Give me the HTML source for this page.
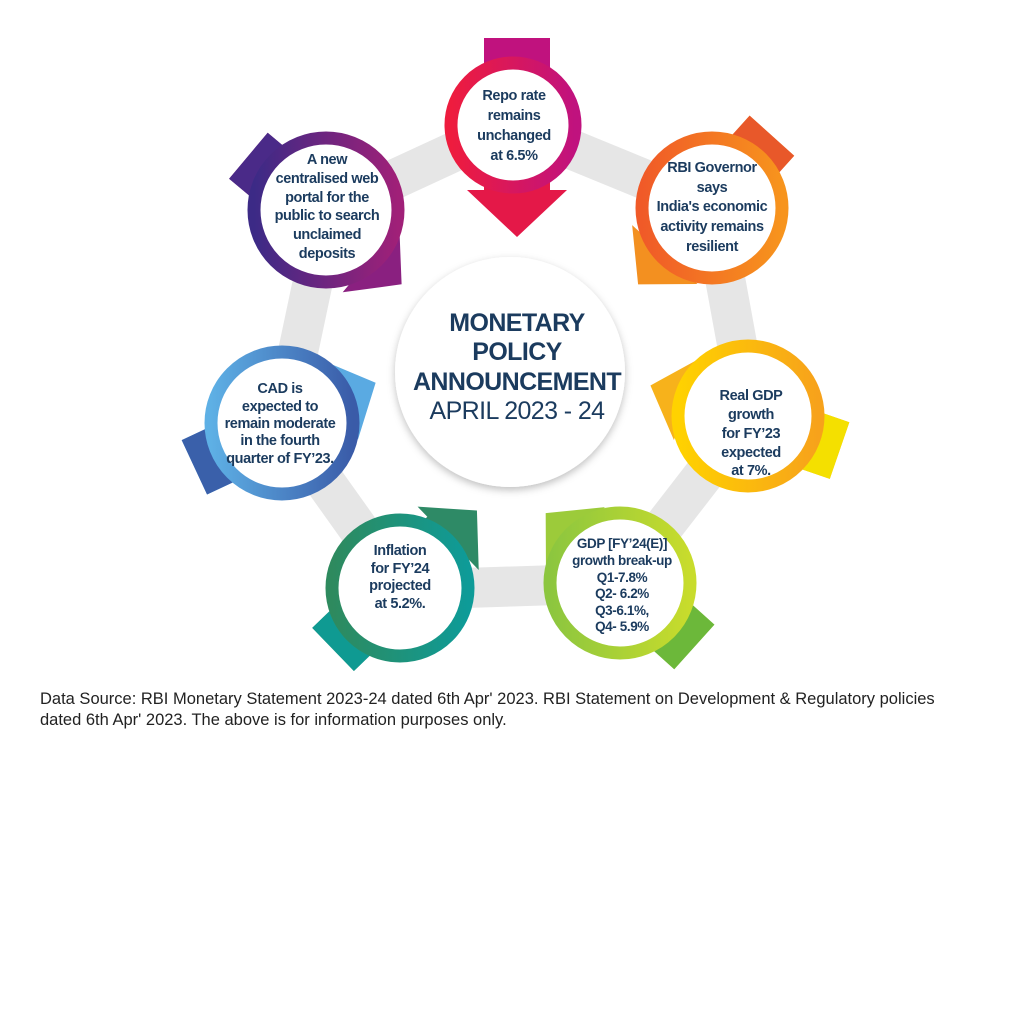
<!DOCTYPE html>
<html><head><meta charset="utf-8"><style>
html,body{margin:0;padding:0;background:#fff;width:1024px;height:1024px;overflow:hidden}
.t{font-family:"Liberation Sans Narrow","Liberation Sans",sans-serif;font-weight:bold;fill:#1b3b5e;text-anchor:middle;letter-spacing:-0.4px}
.foot{position:absolute;left:40px;top:689px;width:905px;font-family:"Liberation Sans",sans-serif;font-size:16.5px;line-height:21px;color:#222}
</style></head><body>
<svg width="1024" height="1024" style="position:absolute;left:0;top:0">
<defs>
<filter id="sh" x="-20%" y="-20%" width="140%" height="140%"><feDropShadow dx="0" dy="3" stdDeviation="4" flood-color="#000" flood-opacity="0.25"/></filter>
<linearGradient id="g1" x1="0" y1="0" x2="1" y2="0"><stop offset="0" stop-color="#ee1c3e"/><stop offset="1" stop-color="#c0127e"/></linearGradient>
<linearGradient id="g2" x1="0" y1="0" x2="1" y2="0"><stop offset="0" stop-color="#3c2a86"/><stop offset="1" stop-color="#a02078"/></linearGradient>
<linearGradient id="g3" x1="0" y1="0" x2="1" y2="0"><stop offset="0" stop-color="#f05a28"/><stop offset="1" stop-color="#f7941d"/></linearGradient>
<linearGradient id="g4" x1="0" y1="0" x2="1" y2="0"><stop offset="0" stop-color="#ffd200"/><stop offset="1" stop-color="#f7a21b"/></linearGradient>
<linearGradient id="g5" x1="0" y1="0" x2="1" y2="0"><stop offset="0" stop-color="#5eb0e5"/><stop offset="1" stop-color="#3a5ba8"/></linearGradient>
<linearGradient id="g6" x1="0" y1="0" x2="1" y2="0"><stop offset="0" stop-color="#2e8a5e"/><stop offset="1" stop-color="#0e9b98"/></linearGradient>
<linearGradient id="g7" x1="0" y1="0" x2="1" y2="0"><stop offset="0" stop-color="#8cc63f"/><stop offset="1" stop-color="#c8dc2c"/></linearGradient>
</defs>
<polygon points="512,125 712,207 750,415 620,583 402,590 283,423 328,210" fill="none" stroke="#e6e6e6" stroke-width="40" stroke-linejoin="round"/>
<circle cx="510" cy="372" r="115" fill="#fff" filter="url(#sh)"/>
<g transform="translate(517,130) rotate(90)"><polygon points="-92,-33 60,-33 60,-50 107,0 60,50 60,33 -92,33" fill="#e41848"/><rect x="-92" y="-33" width="40" height="66" fill="#c0127e"/></g>
<g transform="translate(325,220) rotate(40)"><polygon points="-100,-30 60,-30 60,-44 100,0 60,44 60,30 -100,30" fill="#8a2080"/><rect x="-100" y="-30" width="40" height="60" fill="#4a2a88"/></g>
<g transform="translate(705,210) rotate(132)"><polygon points="-100,-30 60,-30 60,-44 100,0 60,44 60,30 -100,30" fill="#f39020"/><rect x="-100" y="-30" width="40" height="60" fill="#e8582a"/></g>
<g transform="translate(745,418) rotate(199)"><polygon points="-100,-30 60,-30 60,-44 100,0 60,44 60,30 -100,30" fill="#f7b21b"/><rect x="-100" y="-30" width="40" height="60" fill="#f4e000"/></g>
<g transform="translate(285,425) rotate(-25)"><polygon points="-100,-30 60,-30 60,-44 100,0 60,44 60,30 -100,30" fill="#5aaae2"/><rect x="-100" y="-30" width="40" height="60" fill="#3a60aa"/></g>
<g transform="translate(405,580) rotate(-44)"><polygon points="-100,-30 60,-30 60,-44 100,0 60,44 60,30 -100,30" fill="#2e8a66"/><rect x="-100" y="-30" width="40" height="60" fill="#0f9a92"/></g>
<g transform="translate(620,580) rotate(222)"><polygon points="-100,-30 60,-30 60,-44 100,0 60,44 60,30 -100,30" fill="#9ccb3a"/><rect x="-100" y="-30" width="40" height="60" fill="#6cb83a"/></g>
<circle cx="513" cy="125" r="62" fill="#fff" stroke="url(#g1)" stroke-width="13"/>
<circle cx="326" cy="210" r="72" fill="#fff" stroke="url(#g2)" stroke-width="13"/>
<circle cx="712" cy="208" r="70" fill="#fff" stroke="url(#g3)" stroke-width="13"/>
<circle cx="748" cy="416" r="70" fill="#fff" stroke="url(#g4)" stroke-width="13"/>
<circle cx="282" cy="423" r="71" fill="#fff" stroke="url(#g5)" stroke-width="13"/>
<circle cx="400" cy="588" r="68" fill="#fff" stroke="url(#g6)" stroke-width="13"/>
<circle cx="620" cy="583" r="70" fill="#fff" stroke="url(#g7)" stroke-width="13"/>
<g class="t" font-size="14.5">
<text x="514" y="100">Repo rate</text><text x="514" y="120">remains</text><text x="514" y="140">unchanged</text><text x="514" y="160">at 6.5%</text>
<text x="327" y="164">A new</text><text x="327" y="183">centralised web</text><text x="327" y="202">portal for the</text><text x="327" y="220">public to search</text><text x="327" y="239">unclaimed</text><text x="327" y="258">deposits</text>
<text x="712" y="172">RBI Governor</text><text x="712" y="192">says</text><text x="712" y="211">India's economic</text><text x="712" y="231">activity remains</text><text x="712" y="251">resilient</text>
<text x="751" y="400">Real GDP</text><text x="751" y="419">growth</text><text x="751" y="438">for FY’23</text><text x="751" y="457">expected</text><text x="751" y="475">at 7%.</text>
<text x="280" y="393">CAD is</text><text x="280" y="411">expected to</text><text x="280" y="428">remain moderate</text><text x="280" y="445">in the fourth</text><text x="280" y="463">quarter of FY’23.</text>
<text x="400" y="555">Inflation</text><text x="400" y="573">for FY’24</text><text x="400" y="590">projected</text><text x="400" y="608">at 5.2%.</text>
</g>
<g class="t" font-size="13.5">
<text x="622" y="548">GDP [FY’24(E)]</text><text x="622" y="565">growth break-up</text><text x="622" y="582">Q1-7.8%</text><text x="622" y="598">Q2- 6.2%</text><text x="622" y="615">Q3-6.1%,</text><text x="622" y="631">Q4- 5.9%</text>
</g>
<g class="t" font-size="25" style="letter-spacing:-0.6px">
<text x="517" y="331">MONETARY</text><text x="517" y="360">POLICY</text><text x="517" y="390">ANNOUNCEMENT</text>
<text x="517" y="419" style="font-weight:normal">APRIL 2023 - 24</text>
</g>
</svg>
<div class="foot">Data Source: RBI Monetary Statement 2023-24 dated 6th Apr' 2023. RBI Statement on Development &amp; Regulatory policies dated 6th Apr' 2023. The above is for information purposes only.</div>
</body></html>
